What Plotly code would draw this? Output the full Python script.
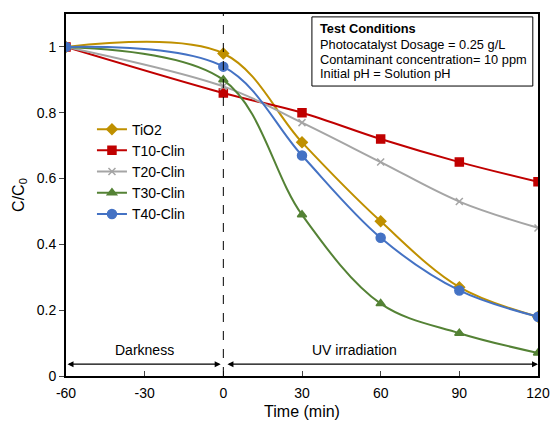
import plotly.graph_objects as go

time = [-60, 0, 30, 60, 90, 120]
tio2 = [1.0, 0.98, 0.71, 0.47, 0.27, 0.18]
t10 = [1.0, 0.86, 0.80, 0.72, 0.65, 0.59]
t20 = [1.0, 0.88, 0.77, 0.65, 0.53, 0.45]
t30 = [1.0, 0.90, 0.49, 0.22, 0.13, 0.07]
t40 = [1.0, 0.94, 0.67, 0.42, 0.26, 0.18]

x_ticks = [-60, -30, 0, 30, 60, 90, 120]
x_labels = ["-60", "-30", "0", "30", "60", "90", "120"]
y_ticks = [0, 0.2, 0.4, 0.6, 0.8, 1]
y_labels = ["0", "0.2", "0.4", "0.6", "0.8", "1"]

box_lines = [
    "<b>Test Conditions</b>",
    "Photocatalyst Dosage = 0.25 g/L",
    "Contaminant concentration= 10 ppm",
    "Initial pH = Solution pH",
]

series = [
    ("TiO2", tio2, "#BF9000", "diamond", 8),
    ("T10-Clin", t10, "#C00000", "square", 8),
    ("T20-Clin", t20, "#A5A5A5", "x-thin", 7),
    ("T30-Clin", t30, "#548235", "triangle-up", 8),
    ("T40-Clin", t40, "#4472C4", "circle", 9),
]

fig = go.Figure()
for name, ys, color, sym, size in series:
    fig.add_trace(go.Scatter(
        x=time, y=ys, name=name, mode="lines+markers",
        line=dict(color=color, width=2, shape="spline", smoothing=1),
        marker=dict(symbol=sym, size=size, color=color,
                    line=dict(color=color, width=1.5)),
    ))

font = "Liberation Sans, Arial, sans-serif"

fig.update_layout(
    width=552, height=423,
    margin=dict(l=66, r=14, t=14, b=47),
    plot_bgcolor="white", paper_bgcolor="white",
    font=dict(family=font, size=14, color="black"),
    showlegend=True,
    legend=dict(x=0.055, y=0.725, xanchor="left", yanchor="top",
                bgcolor="rgba(0,0,0,0)", font=dict(size=14),
                tracegroupgap=0, itemwidth=30),
    xaxis=dict(range=[-60, 120], tickvals=x_ticks, ticktext=x_labels,
               ticks="inside", ticklen=5, automargin=False, ticklabelstandoff=3,
               showgrid=False, zeroline=False, showline=True, linecolor="black",
               linewidth=2, mirror=True,
               title=dict(text="Time (min)", standoff=6, font=dict(size=16))),
    yaxis=dict(range=[0, 1.1], tickvals=y_ticks, ticktext=y_labels,
               ticks="outside", ticklen=5, automargin=False,
               showgrid=False, zeroline=False, showline=True, linecolor="black",
               linewidth=2, mirror=True,
               title=dict(text="C/C<sub>0</sub>", standoff=8, font=dict(size=16))),
)

fig.add_shape(type="line", x0=0, x1=0, y0=0, y1=1.1, xref="x", yref="y",
              line=dict(color="black", width=1, dash="dash"))

arrow_y = 0.036
for x0, x1 in [(-60, -1), (1, 120)]:
    fig.add_annotation(x=x1, y=arrow_y, ax=x0, ay=arrow_y, xref="x", yref="y",
                       axref="x", ayref="y", text="", showarrow=True,
                       arrowhead=2, startarrowhead=2, arrowside="end+start",
                       arrowsize=1, startarrowsize=1, arrowwidth=1.2, arrowcolor="black")

fig.add_annotation(x=-30, y=0.078, xref="x", yref="y", text="Darkness",
                   showarrow=False, font=dict(size=14))
fig.add_annotation(x=50, y=0.078, xref="x", yref="y", text="UV irradiation",
                   showarrow=False, font=dict(size=14))

# Test conditions box
fig.add_shape(type="rect", xref="paper", yref="paper",
              x0=0.521, x1=0.989, y0=0.801, y1=0.992,
              line=dict(color="black", width=1), fillcolor="white")
line_y = [0.9586, 0.917, 0.873, 0.837]
for txt, yy in zip(box_lines, line_y):
    fig.add_annotation(x=0.534, y=yy, xref="paper", yref="paper",
                       xanchor="left", yanchor="middle", text=txt,
                       showarrow=False, font=dict(size=12.8))

fig.write_html("out.html", post_script="document.body.style.margin='0';",
               config={"displayModeBar": False})
